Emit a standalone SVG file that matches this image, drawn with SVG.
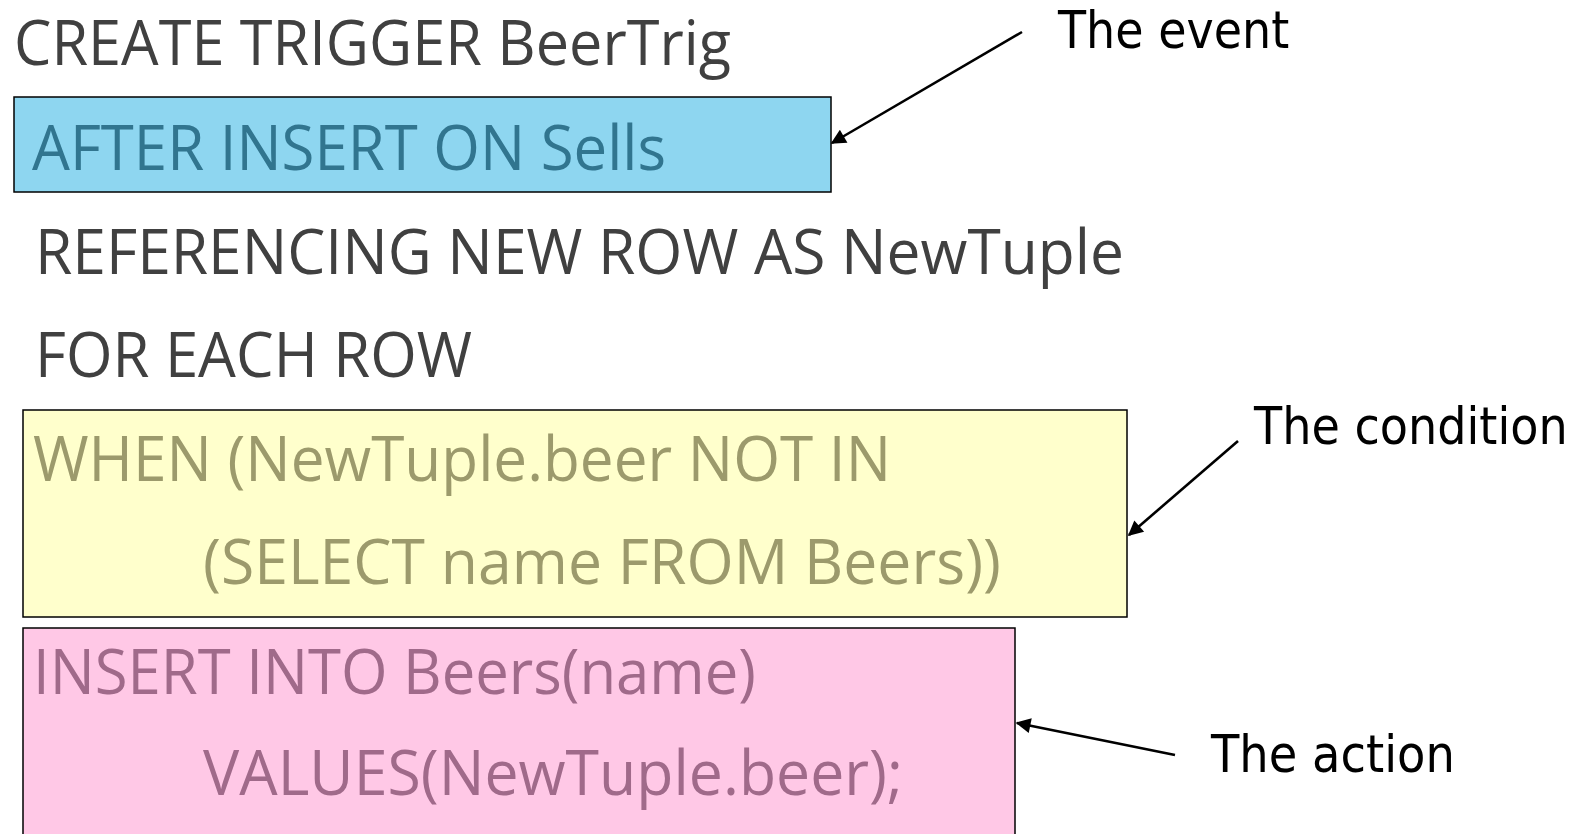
<svg xmlns="http://www.w3.org/2000/svg" width="1588" height="834" viewBox="0 0 1588 834">
  <style>
    .code { font-family: "Open Sans", "Liberation Sans", sans-serif; font-size: 62px; }
    .plain { fill: #404040; }
    .ev-txt { fill: #31758f; }
    .cond-txt { fill: #9c9a6c; }
    .act-txt { fill: #a06a8a; }
    .box { stroke: #000; stroke-width: 1.5; }
    .label { font-family: "DejaVu Sans", "Liberation Sans", sans-serif; font-size: 52px; fill: #000; }
    .conn { stroke: #000; stroke-width: 2.6; fill: none; marker-end: url(#head); }
  </style>
  <defs>
    <marker id="head" viewBox="0 0 10 10" refX="9" refY="5" markerWidth="22" markerHeight="15" markerUnits="userSpaceOnUse" orient="auto">
      <path d="M0,0 L10,5 L0,10 Z" fill="#000"/>
    </marker>
  </defs>
  <rect width="1588" height="834" fill="#fff"/>

  <!-- header line -->
  <g id="header">
    <text class="code plain" x="14" y="65" textLength="717" lengthAdjust="spacingAndGlyphs">CREATE TRIGGER BeerTrig</text>
  </g>

  <!-- event clause -->
  <g id="event">
    <rect class="box" x="14" y="97" width="817" height="95" fill="#8ed6f0"/>
    <text class="code ev-txt" x="32" y="170" textLength="634" lengthAdjust="spacingAndGlyphs">AFTER INSERT ON Sells</text>
  </g>

  <g id="referencing">
    <text class="code plain" x="35" y="274" textLength="1089" lengthAdjust="spacingAndGlyphs">REFERENCING NEW ROW AS NewTuple</text>
  </g>

  <g id="foreach">
    <text class="code plain" x="35" y="377" textLength="437" lengthAdjust="spacingAndGlyphs">FOR EACH ROW</text>
  </g>

  <!-- condition clause -->
  <g id="condition">
    <rect class="box" x="23" y="410" width="1104" height="207" fill="#ffffcc"/>
    <text class="code cond-txt" x="33" y="481" textLength="858" lengthAdjust="spacingAndGlyphs">WHEN (NewTuple.beer NOT IN</text>
    <text class="code cond-txt" x="203" y="584" textLength="798" lengthAdjust="spacingAndGlyphs">(SELECT name FROM Beers))</text>
  </g>

  <!-- action clause -->
  <g id="action">
    <rect class="box" x="23" y="628" width="992" height="220" fill="#ffc8e6"/>
    <text class="code act-txt" x="33" y="694" textLength="723" lengthAdjust="spacingAndGlyphs">INSERT INTO Beers(name)</text>
    <text class="code act-txt" x="203" y="795" textLength="700" lengthAdjust="spacingAndGlyphs">VALUES(NewTuple.beer);</text>
  </g>

  <!-- callout labels (narrowed horizontally) -->
  <g id="label-event" transform="translate(1058,48) scale(0.85,1)">
    <text class="label" x="0" y="0" textLength="272" lengthAdjust="spacingAndGlyphs">The event</text>
  </g>
  <g id="label-condition" transform="translate(1254,444) scale(0.85,1)">
    <text class="label" x="0" y="0" textLength="369" lengthAdjust="spacingAndGlyphs">The condition</text>
  </g>
  <g id="label-action" transform="translate(1211,772) scale(0.85,1)">
    <text class="label" x="0" y="0" textLength="287" lengthAdjust="spacingAndGlyphs">The action</text>
  </g>

  <!-- pointers -->
  <g id="connectors">
    <line class="conn" x1="1022" y1="32" x2="832" y2="143"/>
    <line class="conn" x1="1238" y1="441" x2="1129" y2="535"/>
    <line class="conn" x1="1175" y1="755" x2="1017" y2="723"/>
  </g>
</svg>
